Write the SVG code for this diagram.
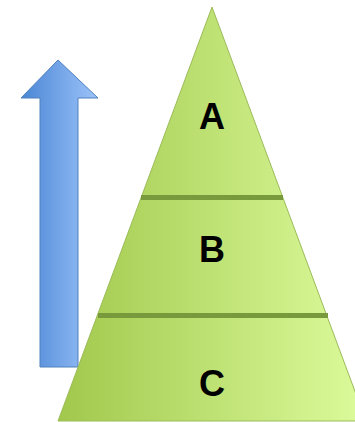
<svg xmlns="http://www.w3.org/2000/svg" width="355" height="422" viewBox="0 0 355 422">
<defs>
<linearGradient id="gGreen" x1="0" y1="0" x2="1" y2="0">
<stop offset="0" stop-color="#a1c84c"/>
<stop offset="1" stop-color="#dcfb9c"/>
</linearGradient>
<linearGradient id="gBlue" x1="0" y1="0" x2="1" y2="0">
<stop offset="0" stop-color="#4a86d4"/>
<stop offset="1" stop-color="#9dc3fa"/>
</linearGradient>
<style>
.lbl{font-family:"Liberation Sans",Arial,sans-serif;font-weight:bold;font-size:36px;fill:#000;text-anchor:middle}
.div{stroke:#789a3c;stroke-width:5}
</style>
</defs>
<g id="arrow">
<polygon points="58,60 98,98 78,98 78,367 40,367 40,98 21,98" fill="url(#gBlue)" stroke="#4f81bd" stroke-width="1"/>
</g>
<g id="pyramid">
<polygon points="212,7 366,421 58,421" fill="url(#gGreen)" stroke="#9bbb59" stroke-width="1"/>
</g>
<g id="connectors">
<line class="div" x1="141" y1="197.5" x2="283" y2="197.5"/>
<line class="div" x1="98" y1="315.5" x2="328" y2="315.5"/>
</g>
<g id="nodeA"><text class="lbl" x="212" y="129">A</text></g>
<g id="nodeB"><text class="lbl" x="212" y="262">B</text></g>
<g id="nodeC"><text class="lbl" x="212" y="396">C</text></g>
</svg>
